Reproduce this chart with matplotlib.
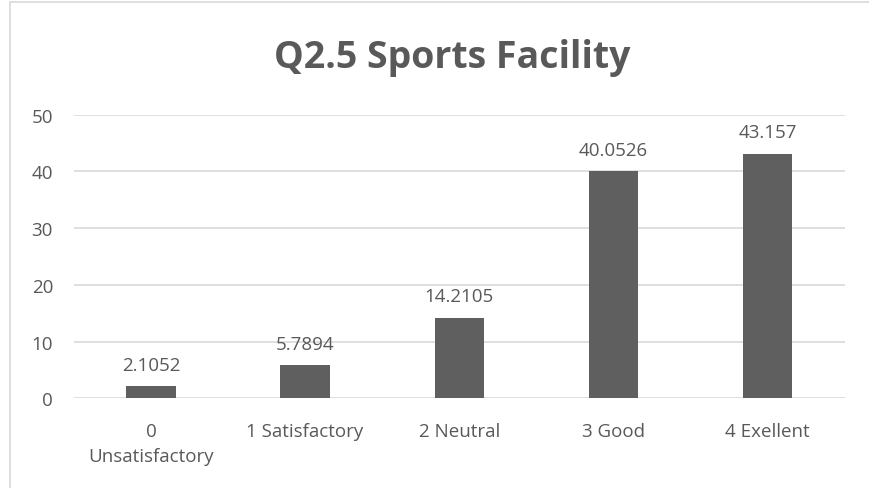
import matplotlib.pyplot as plt
from matplotlib.patches import Rectangle

categories = ["0\nUnsatisfactory", "1 Satisfactory", "2 Neutral", "3 Good", "4 Exellent"]
values = [2.1052, 5.7894, 14.2105, 40.0526, 43.157]
value_labels = ["2.1052", "5.7894", "14.2105", "40.0526", "43.157"]
yticks = [0, 10, 20, 30, 40, 50]

txt = "#595959"
plt.rcParams['font.family'] = ['Open Sans', 'DejaVu Sans']

fig = plt.figure(figsize=(8.69, 4.89), dpi=100)
ax = fig.add_axes([0.085, 0.1834, 0.887, 0.58])

x = range(len(categories))
ax.bar(x, values, width=0.32, color="#5f5f5f", zorder=3)
for xi, v, lab in zip(x, values, value_labels):
    ax.text(xi, v + 2.2, lab, ha="center", va="bottom", fontsize=13.5, color=txt)

ax.set_xlim(-0.5, len(categories) - 0.5)
ax.set_ylim(0, 50)
ax.set_yticks(yticks)
ax.set_xticks(list(x))
ax.set_xticklabels(categories, linespacing=1.5)
ax.tick_params(length=0, labelsize=13.5, colors=txt)
ax.tick_params(axis="x", pad=17)
ax.tick_params(axis="y", pad=15)
ax.yaxis.grid(True, color="#d9d9d9", lw=1.2, zorder=0)
for s in ax.spines.values():
    s.set_visible(False)

fig.text(0.521, 0.861, "Q2.5 Sports Facility", ha="center", va="baseline",
         fontsize=27, fontweight="bold", color=txt)

fig.patches.append(Rectangle((10 / 869, -0.05), 1.1, 1 - 3 / 489 + 0.05,
                             transform=fig.transFigure, fill=False,
                             edgecolor="#d9d9d9", lw=1.2))

fig.savefig("out.png", dpi=100)
